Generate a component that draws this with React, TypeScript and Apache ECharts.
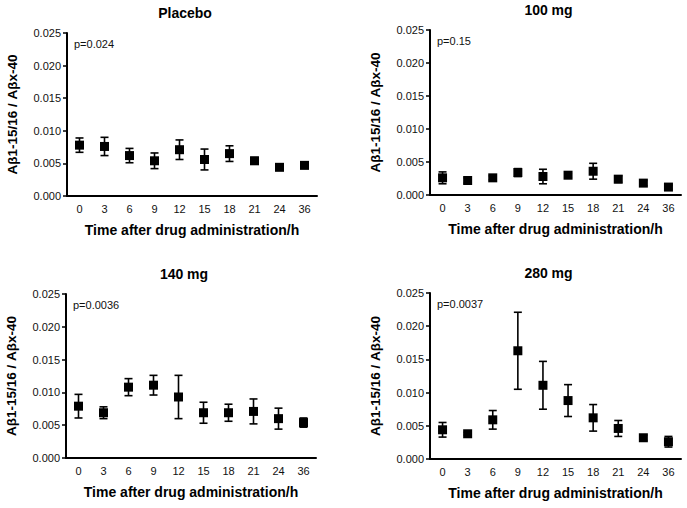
import React, { useEffect, useRef } from "react";
import * as echarts from "echarts";

const times = ["0", "3", "6", "9", "12", "15", "18", "21", "24", "36"];
const panelTitles = ["Placebo", "100 mg", "140 mg", "280 mg"];
const pValues = ["p=0.024", "p=0.15", "p=0.0036", "p=0.0037"];

const placeboMean = [0.0078, 0.0076, 0.0062, 0.0054, 0.0071, 0.0056, 0.0065, 0.0054, 0.0044, 0.0047];
const placeboErr = [0.0011, 0.0014, 0.0011, 0.0012, 0.0015, 0.0016, 0.0012, 0.0005, 0.0003, 0.0004];
const mg100Mean = [0.0026, 0.0022, 0.0026, 0.0034, 0.0028, 0.003, 0.0036, 0.0024, 0.0018, 0.0012];
const mg100Err = [0.0009, 0.0004, 0.0003, 0.0006, 0.0011, 0.0003, 0.0012, 0.0005, 0.0004, 0.0003];
const mg140Mean = [0.0079, 0.0069, 0.0108, 0.0111, 0.0093, 0.0069, 0.0069, 0.0071, 0.006, 0.0054];
const mg140Err = [0.0018, 0.0009, 0.0013, 0.0015, 0.0033, 0.0016, 0.0013, 0.0019, 0.0016, 0.0007];
const mg280Mean = [0.0044, 0.0038, 0.0059, 0.0163, 0.0111, 0.0088, 0.0062, 0.0046, 0.0032, 0.0026];
const mg280Err = [0.0011, 0.0002, 0.0014, 0.0058, 0.0036, 0.0024, 0.002, 0.0012, 0.0004, 0.0008];

const yTicks = [0, 0.005, 0.01, 0.015, 0.02, 0.025];

const means = [placeboMean, mg100Mean, mg140Mean, mg280Mean];
const errs = [placeboErr, mg100Err, mg140Err, mg280Err];

const grids = [
  { left: 67, top: 33, width: 250, height: 163 },
  { left: 430, top: 30, width: 251, height: 165 },
  { left: 66, top: 294, width: 250, height: 164 },
  { left: 430, top: 293, width: 251, height: 166 },
];

const FONT = "Liberation Sans, Arial, sans-serif";

export default function App() {
  const ref = useRef<HTMLDivElement>(null);
  useEffect(() => {
    if (!ref.current) return;
    const chart = echarts.init(ref.current, undefined, { renderer: "svg" });
    const xAxis: any[] = [];
    const yAxis: any[] = [];
    const series: any[] = [];
    const graphic: any[] = [];
    grids.forEach((g, i) => {
      xAxis.push({
        type: "category",
        gridIndex: i,
        data: times,
        boundaryGap: true,
        name: "Time after drug administration/h",
        nameLocation: "middle",
        nameGap: 27,
        nameTextStyle: { fontFamily: FONT, fontWeight: "bold", fontSize: 14, color: "#000" },
        axisLine: { lineStyle: { color: "#000", width: 2 } },
        axisTick: { alignWithLabel: true, length: 4, lineStyle: { color: "#000", width: 1.5 } },
        axisLabel: { fontFamily: FONT, fontSize: 11, color: "#111", margin: 7 },
        splitLine: { show: false },
      });
      yAxis.push({
        type: "value",
        gridIndex: i,
        min: yTicks[0],
        max: yTicks[yTicks.length - 1],
        interval: yTicks[1] - yTicks[0],
        name: "A\u03b21-15/16 / A\u03b2x-40",
        nameLocation: "middle",
        nameGap: 48,
        nameTextStyle: { fontFamily: FONT, fontWeight: "bold", fontSize: 13.5, color: "#000" },
        axisLine: { show: true, lineStyle: { color: "#000", width: 2 } },
        axisTick: { show: true, length: 4, lineStyle: { color: "#000", width: 1.5 } },
        axisLabel: {
          fontFamily: FONT,
          fontSize: 11,
          color: "#111",
          margin: 6,
          formatter: (v: number) => v.toFixed(3),
        },
        splitLine: { show: false },
      });
      const data = times.map((t, k) => [k, means[i][k]]);
      const errData = times.map((t, k) => [k, means[i][k] - errs[i][k], means[i][k] + errs[i][k]]);
      series.push({
        type: "custom",
        xAxisIndex: i,
        yAxisIndex: i,
        data: errData,
        z: 2,
        renderItem: (params: any, api: any) => {
          const x = api.value(0);
          const lo = api.coord([x, api.value(1)]);
          const hi = api.coord([x, api.value(2)]);
          const cap = 4;
          const style = { stroke: "#000", lineWidth: 1.6 };
          return {
            type: "group",
            children: [
              { type: "line", shape: { x1: lo[0], y1: lo[1], x2: hi[0], y2: hi[1] }, style },
              { type: "line", shape: { x1: lo[0] - cap, y1: lo[1], x2: lo[0] + cap, y2: lo[1] }, style },
              { type: "line", shape: { x1: hi[0] - cap, y1: hi[1], x2: hi[0] + cap, y2: hi[1] }, style },
            ],
          };
        },
      });
      series.push({
        type: "scatter",
        xAxisIndex: i,
        yAxisIndex: i,
        data,
        symbol: "rect",
        symbolSize: 9,
        itemStyle: { color: "#000", opacity: 1 },
        emphasis: { disabled: true },
        z: 3,
      });
      graphic.push({
        type: "text",
        x: g.left + g.width / 2 - 7,
        y: g.top - 20,
        style: {
          text: panelTitles[i],
          fontFamily: FONT,
          fontWeight: "bold",
          fontSize: 14,
          fill: "#000",
          textAlign: "center",
          textVerticalAlign: "middle",
        },
      });
      graphic.push({
        type: "text",
        x: g.left + 7,
        y: g.top + 11,
        style: {
          text: pValues[i],
          fontFamily: FONT,
          fontSize: 11,
          fill: "#111",
          textAlign: "left",
          textVerticalAlign: "middle",
        },
      });
    });
    chart.setOption({
      animation: false,
      backgroundColor: "#fff",
      grid: grids.map((g) => ({ ...g, containLabel: false })),
      xAxis,
      yAxis,
      series,
      graphic,
    });
    return () => chart.dispose();
  }, []);
  return (
    <div
      ref={ref}
      style={{ position: "fixed", left: 0, top: 0, width: 687, height: 508 }}
    />
  );
}
